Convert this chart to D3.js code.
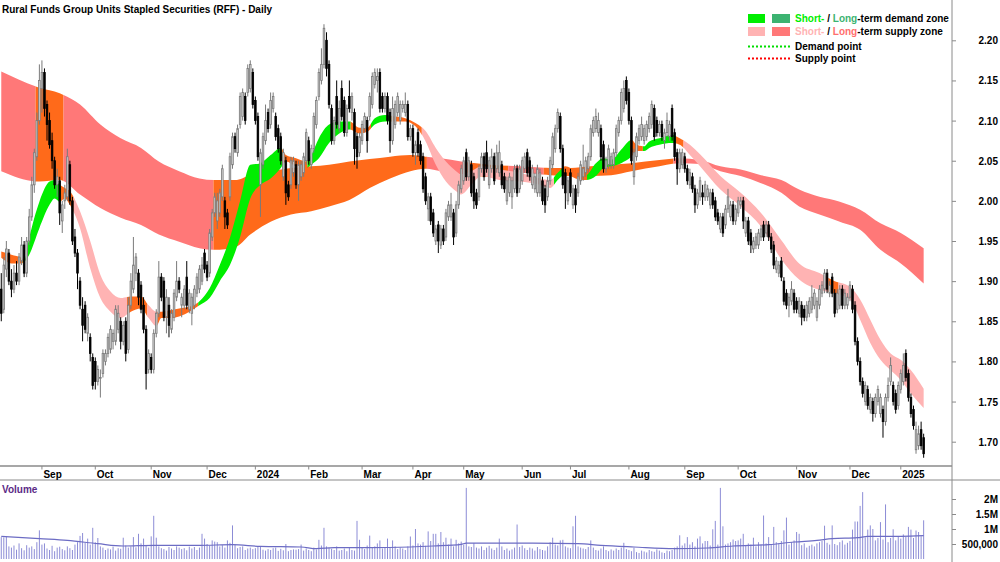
<!DOCTYPE html>
<html>
<head>
<meta charset="utf-8">
<script src="https://cdnjs.cloudflare.com/ajax/libs/d3/7.8.5/d3.min.js"></script>
<style>
  body { margin: 0; background: #fff; }
  text { font-family: "Liberation Sans", Arial, sans-serif; font-weight: bold; font-size: 10px; }
</style>
</head>
<body>
<svg id="chart" width="1000" height="562"></svg>
<script>
// ---- data ----
const firstDay = "2023-08-10", lastDay = "2025-01-15";
const holidays = ["2023-12-25", "2023-12-26", "2024-01-01", "2024-01-26", "2024-03-29", "2024-04-01",
  "2024-04-25", "2024-06-10", "2024-12-25", "2024-12-26", "2025-01-01"];

const opens = [
  1.890,1.865,1.915,1.935,1.900,1.890,1.910,1.900,1.925,1.945,1.910,1.950,1.980,2.020,2.055,2.100,
  2.140,2.160,2.120,2.100,2.075,2.050,2.020,2.025,1.975,2.000,2.005,2.045,2.000,1.955,1.935,1.900,1.865,1.870,1.835,1.830,1.805,
  1.800,1.775,1.780,1.785,1.800,1.810,1.815,1.825,1.825,1.840,1.850,1.825,1.850,1.815,1.870,1.890,1.910,1.910,1.895,1.870,1.840,1.790,
  1.805,1.790,1.835,1.860,1.905,1.900,1.855,1.870,1.840,1.855,1.880,1.900,1.870,1.870,1.905,1.865,1.860,1.870,1.885,1.890,1.900,1.935,
  1.920,1.910,1.955,1.985,1.975,1.985,2.005,2.000,1.985,2.005,2.045,2.080,2.060,2.095,2.105,2.130,2.135,2.140,2.160,
  2.125,2.105,2.020,2.045,2.075,2.110,2.095,2.115,2.105,2.090,2.080,2.030,2.050,2.020,2.020,2.035,2.045,2.020,2.030,2.035,2.050,
  2.075,2.045,2.065,2.095,2.130,2.150,2.170,2.200,2.170,2.115,2.075,2.130,2.090,2.140,2.125,2.085,2.130,2.110,2.110,2.080,2.060,
  2.075,2.090,2.100,2.105,2.120,2.145,2.150,2.160,2.130,2.115,2.130,2.110,2.075,2.095,2.110,2.100,2.115,2.110,2.120,2.080,
  2.090,2.060,2.085,2.070,2.055,2.030,1.990,2.005,1.985,1.950,1.970,1.945,1.965,1.955,1.980,1.980,1.985,1.960,1.995,2.015,
  2.025,2.060,2.030,2.045,2.030,2.010,2.005,2.040,2.055,2.060,2.020,2.040,2.055,2.040,2.035,2.045,2.030,2.000,2.010,2.005,2.015,2.040,2.015,
  2.025,2.040,2.060,2.050,2.020,2.015,2.010,2.010,2.025,2.015,2.005,2.025,2.045,2.065,2.090,2.105,2.065,2.035,2.000,
  2.035,1.995,2.015,2.010,2.025,2.030,2.035,2.040,2.055,2.085,2.090,2.085,2.090,2.070,2.040,2.045,2.045,2.045,2.060,2.085,2.100,2.115,2.150,
  2.135,2.100,2.030,2.055,2.075,2.080,2.075,2.080,2.090,2.095,2.115,2.100,2.085,2.095,2.075,2.085,2.080,2.115,2.085,2.060,2.040,2.045,
  2.055,2.040,2.020,2.030,2.015,1.995,2.005,2.010,2.005,2.005,1.995,2.010,2.000,1.985,1.965,1.980,1.970,1.990,1.980,1.995,1.975,
  1.985,1.995,2.000,1.960,1.975,1.960,1.940,1.945,1.945,1.955,1.970,1.960,1.970,1.955,1.945,1.915,1.910,1.925,1.900,1.885,1.870,1.875,1.885,
  1.875,1.860,1.870,1.865,1.855,1.860,1.865,1.870,1.855,1.870,1.885,1.890,1.910,1.885,1.905,1.885,1.865,1.870,1.890,1.870,1.870,
  1.880,1.890,1.870,1.825,1.800,1.775,1.750,1.765,1.740,1.750,1.735,1.750,1.735,1.740,1.725,1.755,1.775,1.770,1.760,1.745,
  1.765,1.775,1.810,1.785,1.755,1.740,1.690,1.695,1.715,1.705
];
const highs = [
  1.910,1.930,1.950,1.940,1.915,1.920,1.925,1.935,1.955,1.950,1.955,1.990,2.030,2.065,2.110,2.170,
  2.175,2.165,2.125,2.110,2.085,2.055,2.040,2.030,2.000,2.020,2.065,2.050,2.005,1.965,1.940,1.905,1.880,1.875,1.860,1.835,1.810,
  1.805,1.795,1.790,1.815,1.815,1.835,1.845,1.840,1.870,1.870,1.855,1.850,1.855,1.880,1.910,1.955,1.935,1.915,1.900,1.880,1.845,1.815,
  1.810,1.840,1.865,1.925,1.910,1.905,1.890,1.880,1.865,1.890,1.925,1.905,1.885,1.895,1.925,1.890,1.885,1.895,1.910,1.920,1.930,1.940,
  1.925,1.965,1.990,2.010,2.010,2.015,2.045,2.005,1.990,2.060,2.085,2.085,2.095,2.135,2.140,2.135,2.170,2.175,2.165,
  2.130,2.110,2.065,2.085,2.120,2.115,2.135,2.135,2.110,2.095,2.085,2.065,2.055,2.025,2.055,2.055,2.050,2.050,2.050,2.060,2.090,
  2.080,2.070,2.110,2.130,2.165,2.190,2.220,2.210,2.175,2.120,2.105,2.150,2.125,2.150,2.130,2.120,2.150,2.135,2.115,2.085,2.085,
  2.100,2.110,2.105,2.135,2.160,2.165,2.165,2.165,2.135,2.135,2.135,2.115,2.130,2.125,2.135,2.125,2.125,2.135,2.125,2.095,
  2.095,2.075,2.090,2.075,2.060,2.035,2.010,2.010,1.990,1.970,1.975,1.970,1.970,1.990,2.000,2.010,1.990,2.000,2.025,2.045,
  2.055,2.065,2.055,2.050,2.035,2.015,2.045,2.060,2.060,2.075,2.055,2.065,2.060,2.070,2.075,2.050,2.035,2.030,2.035,2.030,2.045,2.045,2.045,
  2.055,2.060,2.065,2.055,2.045,2.035,2.045,2.040,2.030,2.020,2.030,2.055,2.085,2.095,2.115,2.110,2.070,2.040,2.030,
  2.040,2.020,2.020,2.035,2.050,2.070,2.055,2.060,2.095,2.105,2.115,2.110,2.095,2.075,2.055,2.070,2.060,2.065,2.095,2.105,2.140,2.150,2.155,
  2.140,2.105,2.065,2.085,2.095,2.105,2.095,2.100,2.110,2.125,2.120,2.105,2.100,2.100,2.090,2.110,2.100,2.120,2.090,2.065,2.065,2.065,
  2.060,2.045,2.040,2.035,2.020,2.015,2.030,2.020,2.025,2.020,2.015,2.015,2.005,1.990,1.985,1.985,1.995,2.015,2.000,2.000,1.995,
  2.005,2.005,2.005,1.980,1.980,1.965,1.955,1.960,1.965,1.970,1.975,1.975,1.975,1.960,1.950,1.930,1.925,1.930,1.905,1.890,1.885,1.900,1.890,
  1.880,1.880,1.875,1.870,1.875,1.880,1.895,1.890,1.880,1.895,1.900,1.915,1.915,1.900,1.910,1.890,1.890,1.895,1.895,1.890,1.885,
  1.900,1.895,1.875,1.830,1.805,1.780,1.775,1.770,1.760,1.755,1.760,1.770,1.760,1.745,1.760,1.780,1.805,1.775,1.765,1.775,
  1.790,1.810,1.815,1.790,1.760,1.745,1.725,1.720,1.725,1.710
];
const lows = [
  1.850,1.860,1.905,1.895,1.880,1.885,1.895,1.895,1.920,1.905,1.905,1.945,1.975,2.010,2.050,2.095,
  2.110,2.105,2.075,2.065,2.040,2.015,2.005,1.970,1.960,1.990,2.000,1.995,1.945,1.930,1.890,1.865,1.825,1.835,1.825,1.800,1.765,
  1.765,1.770,1.755,1.780,1.795,1.805,1.810,1.815,1.820,1.835,1.815,1.820,1.800,1.810,1.865,1.885,1.900,1.870,1.860,1.835,1.765,1.785,
  1.785,1.785,1.830,1.855,1.875,1.850,1.835,1.830,1.835,1.850,1.875,1.885,1.855,1.865,1.865,1.860,1.845,1.865,1.880,1.885,1.895,1.910,
  1.900,1.905,1.950,1.980,1.965,1.980,2.000,1.965,1.965,2.000,2.040,2.060,2.055,2.090,2.100,2.095,2.130,2.135,2.115,
  2.095,2.050,1.980,2.040,2.070,2.085,2.090,2.110,2.075,2.060,2.045,2.025,1.995,2.000,2.015,2.030,2.015,2.000,2.025,2.030,2.045,
  2.045,2.040,2.060,2.090,2.125,2.145,2.165,2.155,2.115,2.070,2.070,2.090,2.085,2.100,2.080,2.080,2.110,2.100,2.045,2.040,2.055,
  2.070,2.085,2.060,2.100,2.115,2.140,2.135,2.110,2.110,2.110,2.095,2.060,2.070,2.090,2.105,2.095,2.110,2.105,2.075,2.075,
  2.055,2.045,2.055,2.045,2.010,1.995,1.975,1.970,1.955,1.945,1.935,1.940,1.945,1.950,1.975,1.975,1.945,1.955,1.990,2.010,
  2.020,2.025,2.025,2.005,1.990,1.990,2.000,2.035,2.025,2.035,2.015,2.035,2.020,2.035,2.030,2.015,2.010,1.995,2.005,1.990,2.010,2.005,2.010,
  2.020,2.035,2.030,2.025,2.015,2.010,2.005,2.005,1.995,1.985,2.000,2.020,2.040,2.060,2.085,2.060,2.015,1.990,1.995,
  2.005,1.990,1.985,2.005,2.020,2.025,2.030,2.035,2.050,2.080,2.085,2.080,2.050,2.035,2.035,2.040,2.040,2.040,2.055,2.080,2.095,2.110,2.120,
  2.095,2.045,2.020,2.050,2.070,2.075,2.070,2.075,2.085,2.090,2.075,2.080,2.080,2.075,2.065,2.080,2.075,2.075,2.050,2.020,2.035,2.040,
  2.035,2.020,2.015,2.010,1.985,1.990,2.000,1.995,2.000,2.000,1.990,1.990,1.975,1.970,1.960,1.955,1.965,1.985,1.975,1.970,1.970,
  1.980,1.990,1.965,1.955,1.945,1.935,1.935,1.940,1.940,1.950,1.950,1.955,1.950,1.935,1.915,1.910,1.905,1.900,1.870,1.865,1.855,1.870,1.860,
  1.860,1.855,1.845,1.850,1.850,1.855,1.860,1.865,1.850,1.865,1.880,1.885,1.885,1.880,1.880,1.855,1.860,1.865,1.865,1.865,1.865,
  1.875,1.860,1.820,1.795,1.770,1.755,1.745,1.740,1.735,1.725,1.730,1.745,1.730,1.705,1.720,1.750,1.770,1.745,1.735,1.740,
  1.760,1.770,1.775,1.750,1.730,1.715,1.685,1.690,1.690,1.680
];
const closes = [
  1.860,1.920,1.940,1.900,1.890,1.910,1.900,1.930,1.945,1.910,1.950,1.980,2.020,2.060,2.100,2.150,
  2.160,2.115,2.095,2.070,2.050,2.020,2.030,1.985,1.995,2.010,2.055,2.000,1.950,1.935,1.910,1.870,1.845,1.840,1.855,1.810,1.770,
  1.775,1.790,1.780,1.810,1.810,1.830,1.840,1.835,1.865,1.860,1.825,1.845,1.810,1.870,1.900,1.920,1.930,1.880,1.865,1.840,1.785,1.810,
  1.790,1.835,1.860,1.905,1.880,1.855,1.880,1.845,1.860,1.885,1.900,1.890,1.880,1.890,1.870,1.885,1.880,1.890,1.905,1.915,1.920,1.915,
  1.905,1.960,1.985,2.005,2.000,2.010,2.040,1.980,1.970,2.055,2.080,2.065,2.090,2.130,2.135,2.100,2.165,2.170,2.120,
  2.100,2.055,2.060,2.080,2.100,2.090,2.125,2.130,2.080,2.065,2.050,2.060,2.010,2.005,2.050,2.050,2.020,2.045,2.045,2.055,2.085,
  2.050,2.065,2.105,2.125,2.160,2.170,2.215,2.165,2.120,2.075,2.100,2.095,2.115,2.105,2.085,2.115,2.115,2.130,2.065,2.055,2.080,
  2.095,2.105,2.075,2.130,2.155,2.160,2.155,2.115,2.115,2.130,2.100,2.075,2.115,2.120,2.130,2.120,2.120,2.120,2.080,2.090,
  2.060,2.070,2.060,2.050,2.015,2.000,2.005,1.975,1.960,1.965,1.950,1.965,1.950,1.985,1.995,1.995,1.955,1.995,2.020,2.040,
  2.050,2.030,2.050,2.010,2.000,1.995,2.040,2.055,2.030,2.040,2.050,2.055,2.025,2.060,2.060,2.020,2.015,2.025,2.030,2.025,2.040,2.010,2.040,
  2.050,2.055,2.035,2.030,2.040,2.030,2.040,2.035,2.000,1.995,2.025,2.050,2.080,2.090,2.110,2.065,2.020,2.010,2.025,
  2.010,2.015,1.995,2.030,2.045,2.040,2.050,2.055,2.090,2.100,2.105,2.100,2.055,2.040,2.050,2.065,2.055,2.060,2.090,2.100,2.135,2.140,2.125,
  2.100,2.050,2.060,2.080,2.090,2.095,2.090,2.095,2.105,2.120,2.080,2.085,2.095,2.080,2.085,2.100,2.095,2.080,2.055,2.040,2.060,2.060,
  2.040,2.025,2.035,2.015,1.995,2.010,2.025,2.005,2.020,2.015,2.010,1.995,1.980,1.975,1.980,1.960,1.990,2.005,1.995,1.975,1.990,
  2.000,2.000,1.975,1.975,1.950,1.945,1.950,1.955,1.960,1.965,1.955,1.970,1.955,1.940,1.920,1.925,1.920,1.905,1.875,1.870,1.880,1.890,1.865,
  1.865,1.875,1.855,1.855,1.870,1.875,1.880,1.885,1.875,1.890,1.895,1.910,1.890,1.895,1.885,1.860,1.885,1.890,1.870,1.885,1.880,
  1.895,1.865,1.825,1.800,1.775,1.760,1.770,1.745,1.755,1.735,1.755,1.765,1.755,1.725,1.755,1.770,1.795,1.750,1.740,1.770,
  1.785,1.795,1.780,1.755,1.735,1.720,1.715,1.710,1.695,1.685
];
// daily volume, thousands of units
const volumes = [
  730,720,755,420,380,450,310,520,360,290,460,380,420,330,560,955,
  480,520,350,300,440,260,380,410,330,290,420,360,300,480,560,770,866,540,680,480,1040,
  560,700,420,380,300,350,320,410,280,360,340,710,450,380,420,730,390,840,520,680,450,380,
  755,1440,710,420,360,330,280,400,350,300,420,380,330,360,290,410,350,400,300,380,840,680,
  500,450,620,580,560,420,460,380,620,540,1120,480,360,400,420,300,350,380,330,
  360,420,400,310,280,330,300,360,380,270,340,290,500,260,300,320,310,330,480,280,350,
  300,260,380,320,640,450,1040,420,380,340,300,420,280,300,350,260,380,300,280,1270,640,
  400,330,450,780,380,420,520,620,350,400,680,380,620,420,330,380,350,300,420,750,
  450,1000,520,480,560,440,920,600,840,840,520,900,560,710,480,680,420,640,520,580,
  480,2370,420,400,530,380,350,420,300,380,440,350,300,380,680,420,300,350,280,320,380,1150,400,
  450,360,300,380,350,280,400,330,300,280,420,560,710,480,450,620,640,420,380,
  360,1090,1440,420,380,350,330,400,620,380,300,280,350,420,300,260,320,280,350,300,380,540,330,
  300,260,380,230,200,280,250,220,300,260,240,320,280,220,200,280,260,300,380,420,790,450,
  520,730,480,560,420,680,755,520,600,600,450,990,1270,480,2370,1090,480,520,560,650,600,
  620,680,840,450,520,480,710,420,560,480,1450,520,730,480,1070,560,520,600,955,1380,480,560,620,
  900,840,460,520,380,440,480,420,520,560,600,1110,540,480,1120,500,460,560,620,480,540,
  600,980,1250,1250,1770,2230,720,980,1120,1000,620,700,1230,650,1820,560,700,990,620,760,
  680,820,740,1070,980,700,950,900,760,1290
];
// volume average line, read at bar index
const volAvgIdx = [0, 15, 26, 38, 48, 60, 78, 91, 102, 118, 124, 131, 144, 161, 170, 181, 183, 196, 209, 227,
  236, 249, 265, 278, 288, 302, 312, 321, 327, 337, 341, 354, 363];
const volAvgVal = [755, 677, 620, 510, 433, 455, 455, 477, 420, 400, 344, 377, 377, 400, 433, 490, 530, 530, 530, 510,
  455, 400, 344, 366, 433, 477, 566, 620, 677, 710, 755, 755, 777];

// long-term zone edges, read at bar index
const longIdx = [0, 15, 23, 31, 39, 47, 55, 62, 70, 78, 84, 92, 98, 106, 114, 122, 129, 137, 145, 153, 161, 167, 173,
  181, 192, 204, 216, 224, 232, 240, 248, 259, 267, 275, 283, 291, 299, 307, 314, 322, 330, 338, 346, 354, 363];
const longUpper = [2.161, 2.141, 2.134, 2.120, 2.095, 2.078, 2.066, 2.049, 2.037, 2.028, 2.026, 2.026, 2.032, 2.037, 2.041,
  2.043, 2.045, 2.049, 2.052, 2.055, 2.057, 2.055, 2.053, 2.049, 2.045, 2.043, 2.041, 2.041, 2.043, 2.045, 2.047, 2.051,
  2.053, 2.051, 2.043, 2.039, 2.032, 2.026, 2.014, 2.005, 1.999, 1.989, 1.972, 1.960, 1.941];
const longLower = [2.037, 2.024, 2.026, 2.008, 1.991, 1.979, 1.970, 1.958, 1.949, 1.941, 1.939, 1.942, 1.958, 1.974, 1.983,
  1.987, 1.993, 2.001, 2.016, 2.028, 2.037, 2.040, 2.037, 2.033, 2.030, 2.035, 2.032, 2.031, 2.031, 2.032, 2.037, 2.043,
  2.047, 2.046, 2.037, 2.031, 2.022, 2.010, 1.993, 1.983, 1.974, 1.964, 1.939, 1.922, 1.897];

// short-term zone edges, read at bar index
const shortIdx = [0, 4, 8, 9, 11, 15, 19, 21, 23, 25, 27, 31, 35, 39, 43, 47, 51, 55, 58, 61, 63, 67, 70, 74, 78, 82,
  86, 90, 94, 98, 102, 106, 110, 112, 116, 120, 122, 125, 129, 133, 137, 141, 144, 147, 151, 155, 159, 163, 167, 171,
  175, 179, 181, 185, 189, 196, 204, 212, 216, 219, 222, 226, 230, 234, 237, 240, 244, 248, 250, 253, 255, 259, 264,
  267, 271, 275, 283, 291, 299, 307, 314, 322, 328, 334, 338, 342, 346, 350, 354, 358, 363];
const shortUpper = [1.937, 1.933, 1.929, 1.926, 1.954, 1.999, 2.024, 2.026, 2.020, 2.016, 2.012, 1.987, 1.950, 1.908,
  1.887, 1.879, 1.881, 1.881, 1.870, 1.862, 1.862, 1.864, 1.866, 1.868, 1.875, 1.891, 1.920, 1.954, 2.000, 2.045, 2.047,
  2.057, 2.066, 2.057, 2.053, 2.049, 2.057, 2.078, 2.095, 2.099, 2.099, 2.091, 2.091, 2.103, 2.107, 2.105, 2.103, 2.097,
  2.087, 2.066, 2.049, 2.037, 2.033, 2.037, 2.043, 2.039, 2.035, 2.028, 2.026, 2.035, 2.043, 2.037, 2.032, 2.047, 2.053,
  2.051, 2.064, 2.076, 2.070, 2.068, 2.074, 2.078, 2.082, 2.078, 2.070, 2.058, 2.031, 2.010, 1.985, 1.951, 1.922, 1.910,
  1.900, 1.893, 1.877, 1.852, 1.827, 1.810, 1.802, 1.789, 1.766];
const shortLower = [1.929, 1.922, 1.922, 1.924, 1.933, 1.966, 1.995, 2.003, 1.999, 2.003, 1.995, 1.966, 1.916, 1.879,
  1.862, 1.854, 1.862, 1.866, 1.854, 1.844, 1.854, 1.854, 1.856, 1.862, 1.870, 1.879, 1.900, 1.920, 1.955, 2.003, 2.020,
  2.028, 2.041, 2.049, 2.043, 2.041, 2.045, 2.053, 2.072, 2.084, 2.089, 2.084, 2.086, 2.095, 2.099, 2.099, 2.099, 2.093,
  2.074, 2.045, 2.024, 2.012, 2.008, 2.020, 2.031, 2.026, 2.024, 2.020, 2.016, 2.026, 2.033, 2.028, 2.026, 2.031, 2.041,
  2.043, 2.047, 2.055, 2.062, 2.062, 2.066, 2.070, 2.072, 2.070, 2.057, 2.043, 2.014, 1.993, 1.968, 1.927, 1.902, 1.889,
  1.885, 1.877, 1.852, 1.823, 1.802, 1.789, 1.777, 1.760, 1.742];

// zone state per run of bars: [first bar, last bar, state]
const shortZones = [[0, 8, "mix"], [9, 23, "demand"], [24, 28, "mix"], [29, 49, "supply"], [50, 57, "mix"],
  [58, 61, "supply"], [62, 77, "mix"], [78, 110, "demand"], [111, 120, "mix"], [121, 137, "demand"], [138, 145, "mix"],
  [146, 153, "demand"], [154, 165, "mix"], [166, 217, "supply"], [218, 221, "demand"], [222, 230, "mix"],
  [231, 247, "demand"], [248, 252, "mix"], [253, 265, "demand"], [266, 268, "mix"], [269, 325, "supply"],
  [326, 329, "mix"], [330, 363, "supply"]];
const longZones = [[0, 13, "supply"], [14, 24, "mix"], [25, 83, "supply"], [84, 167, "mix"], [168, 183, "supply"],
  [184, 199, "mix"], [200, 213, "supply"], [214, 264, "mix"], [265, 363, "supply"]];

const priceTicks = [1.70, 1.75, 1.80, 1.85, 1.90, 1.95, 2.00, 2.05, 2.10, 2.15, 2.20];
const volTicks = [500, 1000, 1500, 2000];
const volTickLabels = ["500,000", "1M", "1.5M", "2M"];

// ---- chart ----
const shortColor = { demand: "#00ee00", supply: "#ffb3b3", mix: "#ff6a1a" };
const longColor = { demand: "#3cb371", supply: "#ff7878", mix: "#ff6a1a" };

const plotRight = 952, priceBottom = 466, volTop = 480;
const svg = d3.select("#chart");

const fmtDay = d3.utcFormat("%Y-%m-%d");
const dates = d3.utcDay.range(new Date(firstDay), d3.utcDay.offset(new Date(lastDay), 1))
  .filter(d => d.getUTCDay() > 0 && d.getUTCDay() < 6 && !holidays.includes(fmtDay(d)));
const n = Math.min(dates.length, opens.length, highs.length, lows.length, closes.length, volumes.length);

const x = d3.scaleBand().domain(d3.range(dates.length)).range([0, dates.length * 2.541]);
const step = x.step();
const xc = i => x(i) + step / 2;

const y = d3.scaleLinear().domain([1.70, 2.20]).range([441.7, 40.3]);
const yv = d3.scaleLinear().domain([0, 2000]).range([559, 499]);

svg.append("defs").append("clipPath").attr("id", "price-clip")
  .append("rect").attr("x", 0).attr("y", 0).attr("width", plotRight).attr("height", priceBottom);

const price = svg.append("g").attr("clip-path", "url(#price-clip)");

// zones: one smooth band, coloured run by run through clip rects
function drawBand(name, idx, upper, lower, zones, colors) {
  const pts = idx.map((d, k) => ({ i: d, hi: upper[k], lo: lower[k] }));
  const area = d3.area()
    .x(d => xc(d.i))
    .y0(d => y(d.lo))
    .y1(d => y(d.hi))
    .curve(d3.curveMonotoneX);
  const pathD = area(pts);
  zones.forEach((z, k) => {
    const id = `clip-${name}-${k}`;
    const x0 = k === 0 ? -10 : x(z[0]);
    const x1 = k === zones.length - 1 ? plotRight : x(z[1]) + step;
    svg.select("defs").append("clipPath").attr("id", id)
      .append("rect").attr("x", x0).attr("y", 0).attr("width", x1 - x0).attr("height", priceBottom);
    price.append("path")
      .attr("d", pathD)
      .attr("fill", colors[z[2]])
      .attr("clip-path", `url(#${id})`);
  });
}
drawBand("long", longIdx, longUpper, longLower, longZones, longColor);
drawBand("short", shortIdx, shortUpper, shortLower, shortZones, shortColor);

// candles
const bars = d3.range(n).map(i => ({
  i: i, o: opens[i], c: closes[i],
  h: Math.max(highs[i], opens[i], closes[i]),
  l: Math.min(lows[i], opens[i], closes[i])
}));

const candle = price.selectAll("g.candle")
  .data(bars)
  .join("g")
  .attr("class", "candle");

candle.append("line")
  .attr("x1", d => xc(d.i)).attr("x2", d => xc(d.i))
  .attr("y1", d => y(d.h)).attr("y2", d => y(d.l))
  .attr("stroke", d => d.c >= d.o ? "#7a7a7a" : "#000")
  .attr("stroke-width", 1);

candle.append("rect")
  .attr("x", d => xc(d.i) - 0.8)
  .attr("width", 1.6)
  .attr("y", d => y(Math.max(d.o, d.c)))
  .attr("height", d => Math.max(0.8, Math.abs(y(d.o) - y(d.c))))
  .attr("fill", d => d.c >= d.o ? "#d4d4d4" : "#000")
  .attr("stroke", d => d.c >= d.o ? "#7a7a7a" : "#000")
  .attr("stroke-width", 0.8);

// volume
svg.append("g").selectAll("line")
  .data(d3.range(n))
  .join("line")
  .attr("x1", i => xc(i)).attr("x2", i => xc(i))
  .attr("y1", yv(0)).attr("y2", i => yv(volumes[i]))
  .attr("stroke", "#8c8cd6")
  .attr("stroke-width", 1);

svg.append("path")
  .datum(volAvgIdx.map((d, k) => [xc(d), yv(volAvgVal[k])]))
  .attr("d", d3.line().curve(d3.curveMonotoneX))
  .attr("fill", "none")
  .attr("stroke", "#6c6cc4")
  .attr("stroke-width", 1.2);

// frame lines
svg.append("line").attr("x1", 0).attr("x2", plotRight).attr("y1", priceBottom).attr("y2", priceBottom)
  .attr("stroke", "#8a8a8a").attr("stroke-width", 1.5);
svg.append("line").attr("x1", 0).attr("x2", 1000).attr("y1", volTop).attr("y2", volTop)
  .attr("stroke", "#8a8a8a").attr("stroke-width", 1);
svg.append("line").attr("x1", plotRight).attr("x2", plotRight).attr("y1", 0).attr("y2", 562)
  .attr("stroke", "#8a8a8a").attr("stroke-width", 1);

// price axis
const ya = svg.append("g")
  .attr("transform", `translate(${plotRight},0)`)
  .call(d3.axisRight(y).tickValues(priceTicks).tickSize(4).tickFormat(d3.format(".2f")));
ya.select(".domain").remove();
ya.selectAll(".tick line").attr("stroke", "#8a8a8a");
ya.selectAll(".tick text").attr("x", 46).attr("text-anchor", "end").attr("dy", "0.35em");

// volume axis
const va = svg.append("g")
  .attr("transform", `translate(${plotRight},0)`)
  .call(d3.axisRight(yv).tickValues(volTicks).tickSize(4).tickFormat((d, k) => volTickLabels[k]));
va.select(".domain").remove();
va.selectAll(".tick line").attr("stroke", "#8a8a8a");
va.selectAll(".tick text").attr("x", 46).attr("text-anchor", "end").attr("dy", "0.35em");

// month axis
const monthStarts = d3.range(1, dates.length).filter(i => dates[i].getUTCMonth() !== dates[i - 1].getUTCMonth());
const mx = svg.append("g");
mx.selectAll("line")
  .data(monthStarts)
  .join("line")
  .attr("x1", i => xc(i)).attr("x2", i => xc(i))
  .attr("y1", priceBottom).attr("y2", priceBottom + 3.5)
  .attr("stroke", "#8a8a8a");
mx.selectAll("text")
  .data(monthStarts)
  .join("text")
  .attr("x", i => xc(i) + 1.5)
  .attr("y", 478)
  .text(i => dates[i].getUTCMonth() === 0 ? d3.utcFormat("%Y")(dates[i]) : d3.utcFormat("%b")(dates[i]));

// titles
svg.append("text").attr("x", 2).attr("y", 12.5).text("Rural Funds Group Units Stapled Securities (RFF) - Daily");
svg.append("text").attr("x", 2).attr("y", 493).attr("fill", "#5b2a86").text("Volume");

// legend
const lg = svg.append("g");
lg.append("rect").attr("x", 748).attr("y", 14).attr("width", 17).attr("height", 9).attr("fill", shortColor.demand);
lg.append("rect").attr("x", 772).attr("y", 14).attr("width", 18).attr("height", 9).attr("fill", longColor.demand);
lg.append("rect").attr("x", 748).attr("y", 27).attr("width", 17).attr("height", 9).attr("fill", shortColor.supply);
lg.append("rect").attr("x", 772).attr("y", 27).attr("width", 18).attr("height", 9).attr("fill", longColor.supply);
lg.append("line").attr("x1", 748).attr("x2", 790).attr("y1", 46.5).attr("y2", 46.5)
  .attr("stroke", "#00dd00").attr("stroke-width", 2).attr("stroke-dasharray", "2,2");
lg.append("line").attr("x1", 748).attr("x2", 790).attr("y1", 58.5).attr("y2", 58.5)
  .attr("stroke", "#ff0000").attr("stroke-width", 2).attr("stroke-dasharray", "2,2");

const t1 = lg.append("text").attr("x", 795).attr("y", 22);
t1.append("tspan").attr("fill", shortColor.demand).text("Short-");
t1.append("tspan").text(" / ");
t1.append("tspan").attr("fill", longColor.demand).text("Long");
t1.append("tspan").text("-term demand zone");
const t2 = lg.append("text").attr("x", 795).attr("y", 35);
t2.append("tspan").attr("fill", shortColor.supply).text("Short-");
t2.append("tspan").text(" / ");
t2.append("tspan").attr("fill", "#ff6e6e").text("Long");
t2.append("tspan").text("-term supply zone");
lg.append("text").attr("x", 795).attr("y", 49.5).text("Demand point");
lg.append("text").attr("x", 795).attr("y", 61.5).text("Supply point");
</script>
</body>
</html>
